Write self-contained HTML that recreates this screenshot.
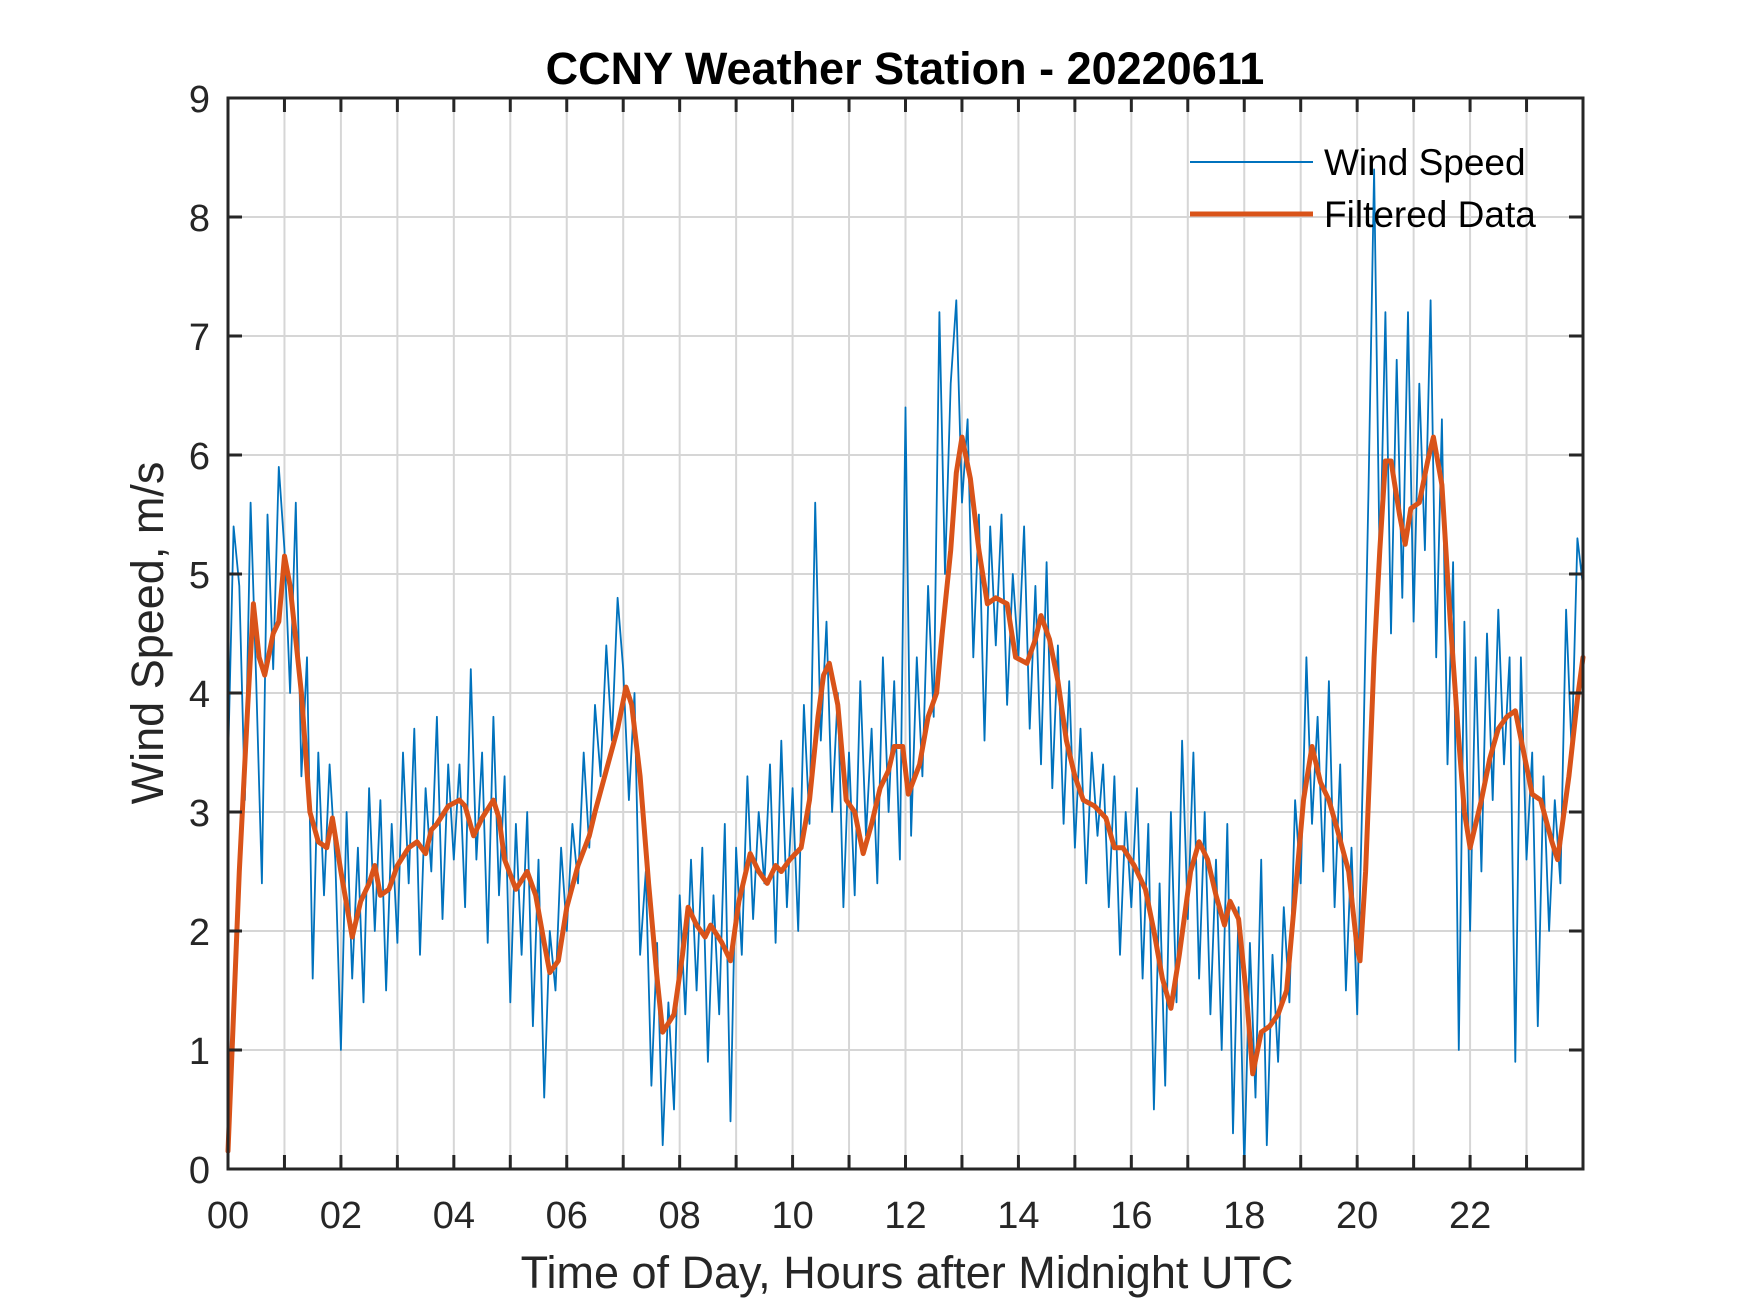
<!DOCTYPE html>
<html><head><meta charset="utf-8"><style>
html,body{margin:0;padding:0;background:#fff;}
svg{display:block;font-family:"Liberation Sans",Arial,sans-serif;}
</style></head><body>
<svg id="chart" width="1750" height="1313" viewBox="0 0 1750 1313" xmlns="http://www.w3.org/2000/svg">
<rect x="0" y="0" width="1750" height="1313" fill="#fff"/>
<rect x="228" y="98" width="1355" height="1071" fill="#fff"/>
<g id="grid"></g>
<g id="series"></g>
<g id="axes"></g>
<text x="905" y="84" text-anchor="middle" font-size="45" font-weight="bold" fill="#000">CCNY Weather Station - 20220611</text>
<text x="907" y="1288" text-anchor="middle" font-size="45" fill="#262626">Time of Day, Hours after Midnight UTC</text>
<text transform="translate(163,633) rotate(-90)" text-anchor="middle" font-size="45" fill="#262626">Wind Speed, m/s</text>
<g>
<line x1="1190" y1="162" x2="1313" y2="162" stroke="#0072BD" stroke-width="2"/>
<text x="1324" y="175" font-size="37" fill="#000">Wind Speed</text>
<line x1="1190" y1="214" x2="1313" y2="214" stroke="#D95319" stroke-width="5"/>
<text x="1324" y="227" font-size="37" fill="#000">Filtered Data</text>
</g>
</svg>
<script>
const xTickValues=[0,2,4,6,8,10,12,14,16,18,20,22];
const xTickLabels=["00","02","04","06","08","10","12","14","16","18","20","22"];
const yTickValues=[0,1,2,3,4,5,6,7,8,9];
const rawStep=0.1;
const rawSpeed=[
3.4,5.4,4.9,3.1,5.6,4.1,2.4,5.5,4.2,5.9,
5.2,4.0,5.6,3.3,4.3,1.6,3.5,2.3,3.4,2.6,
1.0,3.0,1.6,2.7,1.4,3.2,2.0,3.1,1.5,2.9,
1.9,3.5,2.4,3.7,1.8,3.2,2.5,3.8,2.1,3.4,
2.6,3.4,2.2,4.2,2.6,3.5,1.9,3.8,2.3,3.3,
1.4,2.9,1.8,3.0,1.2,2.6,0.6,2.0,1.5,2.7,
2.0,2.9,2.4,3.5,2.7,3.9,3.3,4.4,3.6,4.8,
4.2,3.1,4.0,1.8,2.5,0.7,1.9,0.2,1.4,0.5,
2.3,1.3,2.6,1.5,2.7,0.9,2.3,1.3,2.9,0.4,
2.7,1.8,3.3,2.1,3.0,2.4,3.4,1.9,3.6,2.2,
3.2,2.0,3.9,2.9,5.6,3.6,4.6,3.0,4.0,2.2,
3.5,2.3,4.1,2.8,3.7,2.4,4.3,3.0,4.1,2.6,
6.4,2.8,4.3,3.3,4.9,3.8,7.2,5.0,6.6,7.3,
5.6,6.3,4.3,5.5,3.6,5.4,4.4,5.5,3.9,5.0,
4.3,5.4,3.7,4.9,3.4,5.1,3.2,4.4,2.9,4.1,
2.7,3.7,2.4,3.5,2.8,3.4,2.2,3.3,1.8,3.0,
2.2,3.2,1.6,2.9,0.5,2.4,0.7,3.0,1.4,3.6,
2.1,3.5,1.6,3.0,1.3,2.6,1.0,2.9,0.3,2.2,
0.0,1.9,0.6,2.6,0.2,1.8,0.9,2.2,1.4,3.1,
2.4,4.3,2.9,3.8,2.5,4.1,2.2,3.4,1.5,2.7,
1.3,3.3,5.7,8.4,5.0,7.2,4.5,6.8,4.8,7.2,
4.6,6.6,5.2,7.3,4.3,6.3,3.4,5.1,1.0,4.6,
2.0,4.3,2.5,4.5,3.1,4.7,3.4,4.3,0.9,4.3,
2.6,3.5,1.2,3.3,2.0,3.1,2.4,4.7,3.5,5.3,
4.9];
const filtHours=[0,0.2,0.35,0.45,0.55,0.65,0.8,0.9,1.0,1.1,1.3,1.45,1.6,1.75,1.85,2.0,2.2,2.35,2.5,2.6,2.7,2.85,3.0,3.2,3.35,3.5,3.6,3.7,3.9,4.1,4.2,4.35,4.5,4.7,4.8,4.9,5.1,5.3,5.45,5.6,5.7,5.85,6.0,6.2,6.4,6.5,6.7,6.9,7.05,7.15,7.3,7.45,7.6,7.7,7.9,8.05,8.15,8.3,8.45,8.55,8.75,8.9,9.05,9.25,9.4,9.55,9.7,9.8,9.95,10.15,10.3,10.45,10.55,10.65,10.8,10.95,11.1,11.25,11.4,11.55,11.7,11.8,11.95,12.05,12.25,12.4,12.55,12.65,12.8,12.9,13.0,13.15,13.3,13.45,13.6,13.8,13.95,14.15,14.3,14.4,14.55,14.7,14.85,15.0,15.15,15.35,15.55,15.7,15.85,16.05,16.25,16.4,16.55,16.7,16.85,17.05,17.2,17.35,17.5,17.65,17.75,17.9,18.05,18.15,18.3,18.45,18.6,18.75,18.9,19.05,19.2,19.35,19.5,19.65,19.85,20.0,20.05,20.15,20.3,20.4,20.5,20.6,20.75,20.85,20.95,21.1,21.25,21.35,21.5,21.65,21.8,21.9,22.0,22.2,22.35,22.5,22.65,22.8,22.95,23.1,23.25,23.45,23.55,23.75,23.9,24.0];
const filtSpeed=[0.15,2.5,3.9,4.75,4.3,4.15,4.5,4.6,5.15,4.9,4.0,3.0,2.75,2.7,2.95,2.5,1.95,2.25,2.4,2.55,2.3,2.35,2.55,2.7,2.75,2.65,2.85,2.9,3.05,3.1,3.05,2.8,2.95,3.1,2.95,2.6,2.35,2.5,2.3,1.9,1.65,1.75,2.2,2.55,2.8,3.0,3.35,3.7,4.05,3.9,3.3,2.4,1.6,1.15,1.3,1.8,2.2,2.05,1.95,2.05,1.9,1.75,2.25,2.65,2.5,2.4,2.55,2.5,2.6,2.7,3.1,3.8,4.15,4.25,3.9,3.1,3.0,2.65,2.9,3.2,3.35,3.55,3.55,3.15,3.4,3.8,4.0,4.5,5.2,5.85,6.15,5.8,5.2,4.75,4.8,4.75,4.3,4.25,4.45,4.65,4.45,4.1,3.6,3.3,3.1,3.05,2.95,2.7,2.7,2.55,2.35,2.0,1.6,1.35,1.8,2.5,2.75,2.6,2.3,2.05,2.25,2.1,1.4,0.8,1.15,1.2,1.3,1.5,2.3,3.1,3.55,3.25,3.1,2.85,2.5,1.85,1.75,2.5,4.3,5.2,5.95,5.95,5.5,5.25,5.55,5.6,5.95,6.15,5.75,4.6,3.6,3.0,2.7,3.1,3.45,3.7,3.8,3.85,3.5,3.15,3.1,2.75,2.6,3.3,3.95,4.3];

const NS='http://www.w3.org/2000/svg';
const L=228,R=1583,T=98,B=1169,XMAX=24,YMAX=9;
const xs=v=>L+(v/XMAX)*(R-L);
const ys=v=>B-(v/YMAX)*(B-T);
function mk(tag,parent){const e=document.createElementNS(NS,tag);parent.appendChild(e);return e;}
const grid=document.getElementById('grid'),axes=document.getElementById('axes'),series=document.getElementById('series');
for(let h=1;h<24;h++){
  const g=mk('line',grid);
  
  
  g.setAttribute('x1',xs(h));g.setAttribute('x2',xs(h));g.setAttribute('y1',T);g.setAttribute('y2',B);
  g.setAttribute('stroke','#d6d6d6');g.setAttribute('stroke-width','2');
}
yTickValues.forEach(v=>{
  if(v===0||v===YMAX)return;
  const g=mk('line',grid);
  
  
  g.setAttribute('x1',L);g.setAttribute('x2',R);g.setAttribute('y1',ys(v));g.setAttribute('y2',ys(v));
  g.setAttribute('stroke','#d6d6d6');g.setAttribute('stroke-width','2');
});
let d='';
rawSpeed.forEach((v,i)=>{d+=(i?'L':'M')+xs(i*rawStep).toFixed(1)+','+ys(v).toFixed(1);});
const raw=mk('path',series);


raw.setAttribute('d',d);raw.setAttribute('fill','none');raw.setAttribute('stroke','#0072BD');raw.setAttribute('stroke-width','1.8');raw.setAttribute('stroke-linejoin','round');
let d2='';
filtSpeed.forEach((v,i)=>{d2+=(i?'L':'M')+xs(filtHours[i]).toFixed(1)+','+ys(v).toFixed(1);});
const fl=mk('path',series);


fl.setAttribute('d',d2);fl.setAttribute('fill','none');fl.setAttribute('stroke','#D95319');fl.setAttribute('stroke-width','5');fl.setAttribute('stroke-linejoin','round');fl.setAttribute('stroke-linecap','round');
const box=mk('rect',axes);


box.setAttribute('x',L);box.setAttribute('y',T);box.setAttribute('width',R-L);box.setAttribute('height',B-T);
box.setAttribute('fill','none');box.setAttribute('stroke','#262626');box.setAttribute('stroke-width','3');
for(let h=1;h<24;h++){
  [[B,B-14],[T,T+14]].forEach(p=>{
    const t=mk('line',axes);
    
    
    t.setAttribute('x1',xs(h));t.setAttribute('x2',xs(h));t.setAttribute('y1',p[0]);t.setAttribute('y2',p[1]);
    t.setAttribute('stroke','#262626');t.setAttribute('stroke-width','3');
  });
}
xTickValues.forEach((v,i)=>{
  const t=mk('text',axes);
  
  
  t.setAttribute('x',xs(v));t.setAttribute('y',1228);t.setAttribute('text-anchor','middle');
  t.setAttribute('font-size','38');t.setAttribute('fill','#262626');
  t.textContent=xTickLabels[i];
});
yTickValues.forEach(v=>{
  [[L,L+14],[R,R-14]].forEach(p=>{
    const t=mk('line',axes);
    
    
    t.setAttribute('x1',p[0]);t.setAttribute('x2',p[1]);t.setAttribute('y1',ys(v));t.setAttribute('y2',ys(v));
    t.setAttribute('stroke','#262626');t.setAttribute('stroke-width','3');
  });
  const lb=mk('text',axes);
  
  
  lb.setAttribute('x',210);lb.setAttribute('y',ys(v)+14);lb.setAttribute('text-anchor','end');
  lb.setAttribute('font-size','38');lb.setAttribute('fill','#262626');
  lb.textContent=String(v);
});
</script>
</body></html>
